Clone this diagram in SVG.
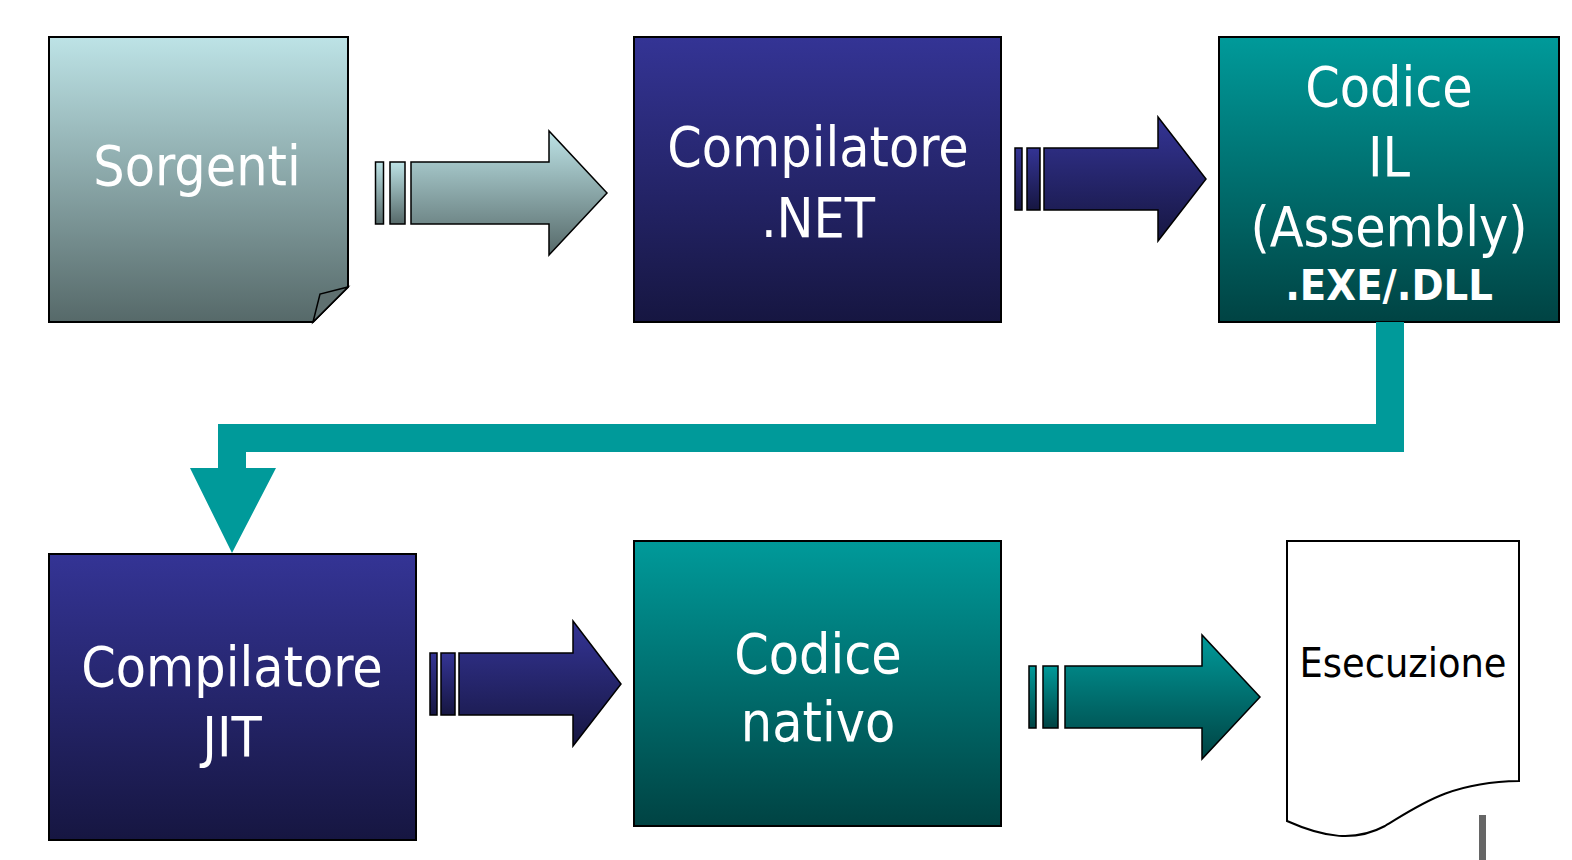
<svg xmlns="http://www.w3.org/2000/svg" width="1572" height="860" viewBox="0 0 1572 860">
<defs>
<linearGradient id="gGray" x1="0" y1="0" x2="0" y2="1"><stop offset="0" stop-color="#bde3e6"/><stop offset="1" stop-color="#566969"/></linearGradient>
<linearGradient id="gBlue" x1="0" y1="0" x2="0" y2="1"><stop offset="0" stop-color="#343495"/><stop offset="1" stop-color="#161641"/></linearGradient>
<linearGradient id="gTeal" x1="0" y1="0" x2="0" y2="1"><stop offset="0" stop-color="#009a9a"/><stop offset="1" stop-color="#004343"/></linearGradient>
</defs>
<style>
.box{stroke:#000;stroke-width:2}
.arr{stroke:#000;stroke-width:1.5}
.t{font-family:'DejaVu Sans Condensed','DejaVu Sans',sans-serif;font-stretch:condensed;fill:#fff;font-size:55px;text-anchor:middle}
.b{font-weight:bold;font-size:43px}
.k{fill:#000;font-size:41px}
</style>
<g id="sorgenti">
<path class="box" d="M49,37 H348 V287 L313,322 H49 Z" fill="url(#gGray)"/>
<path d="M313,322 L320,294 L348,287 Z" fill="#5f7070" stroke="#000" stroke-width="1.5"/>
<text class="t" x="197" y="185">Sorgenti</text>
</g>
<g id="compilatore-net">
<rect class="box" x="634" y="37" width="367" height="285" fill="url(#gBlue)"/>
<text class="t" x="818" y="166">Compilatore</text>
<text class="t" x="818" y="237">.NET</text>
</g>
<g id="codice-il">
<rect class="box" x="1219" y="37" width="340" height="285" fill="url(#gTeal)"/>
<text class="t" x="1389" y="106">Codice</text>
<text class="t" x="1389" y="176">IL</text>
<text class="t" x="1389" y="246">(Assembly)</text>
<text class="t b" x="1389" y="300">.EXE/.DLL</text>
</g>
<g id="compilatore-jit">
<rect class="box" x="49" y="554" width="367" height="286" fill="url(#gBlue)"/>
<text class="t" x="232" y="686">Compilatore</text>
<text class="t" x="232" y="756">JIT</text>
</g>
<g id="codice-nativo">
<rect class="box" x="634" y="541" width="367" height="285" fill="url(#gTeal)"/>
<text class="t" x="818" y="673">Codice</text>
<text class="t" x="818" y="741">nativo</text>
</g>
<g id="esecuzione">
<path d="M1287,541 H1519 V781 C1450,782 1420,805 1385,826 C1355,842 1325,838 1287,821 Z" fill="#fff" stroke="#000" stroke-width="2"/>
<text class="t k" x="1403" y="677">Esecuzione</text>
</g>
<g id="connectors">
<g fill="url(#gGray)" class="arr">
<rect x="375.5" y="162" width="8" height="62"/>
<rect x="390" y="162" width="15" height="62"/>
<path d="M411,162 H549 V131 L607,193 L549,255 V224 H411 Z"/>
</g>
<g fill="url(#gBlue)" class="arr">
<rect x="1015" y="148" width="7" height="62"/>
<rect x="1027" y="148" width="13" height="62"/>
<path d="M1044,148 H1158 V117 L1206,179 L1158,241 V210 H1044 Z"/>
</g>
<path d="M1376,322 H1404 V452 H246 V468 H276 L232,553 L190,468 H218 V424 H1376 Z" fill="#009a9a"/>
<g fill="url(#gBlue)" class="arr">
<rect x="430" y="653" width="7" height="62"/>
<rect x="441" y="653" width="14" height="62"/>
<path d="M459,653 H573 V621 L621,684 L573,746 V715 H459 Z"/>
</g>
<g fill="url(#gTeal)" class="arr">
<rect x="1029" y="666" width="7" height="62"/>
<rect x="1043" y="666" width="15" height="62"/>
<path d="M1065,666 H1202 V635 L1260,697 L1202,759 V728 H1065 Z"/>
</g>
</g>
<rect x="1479" y="815" width="7" height="45" fill="#666"/>
</svg>
